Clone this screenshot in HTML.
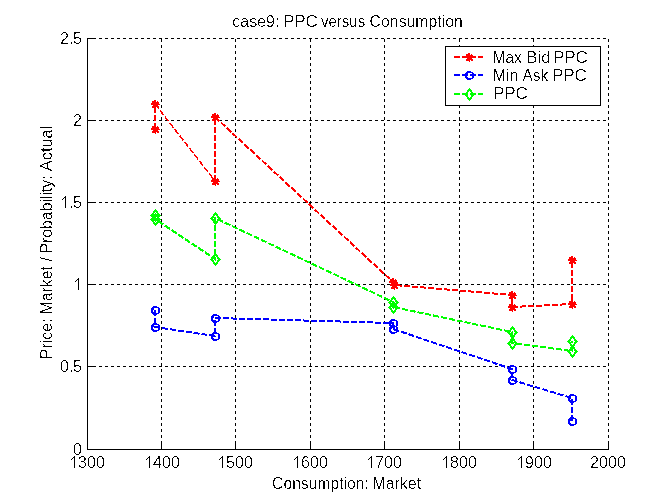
<!DOCTYPE html>
<html><head><meta charset="utf-8"><title>case9: PPC versus Consumption</title>
<style>html,body{margin:0;padding:0;background:#fff;overflow:hidden}svg{display:block}text{font-family:"Liberation Sans",sans-serif;font-size:16px;fill:#000}</style></head><body>
<svg width="672" height="504" viewBox="0 0 672 504" shape-rendering="crispEdges">
<rect x="0" y="0" width="672" height="504" fill="#fff"/>
<g stroke="#000" stroke-width="1" stroke-dasharray="3 3" fill="none">
<line x1="87" y1="366.5" x2="609" y2="366.5"/>
<line x1="87" y1="284.5" x2="609" y2="284.5"/>
<line x1="87" y1="202.5" x2="609" y2="202.5"/>
<line x1="87" y1="120.5" x2="609" y2="120.5"/>
<line x1="87" y1="38.5" x2="609" y2="38.5"/>
<line x1="161.5" y1="450" x2="161.5" y2="38"/>
<line x1="235.5" y1="450" x2="235.5" y2="38"/>
<line x1="310.5" y1="450" x2="310.5" y2="38"/>
<line x1="384.5" y1="450" x2="384.5" y2="38"/>
<line x1="459.5" y1="450" x2="459.5" y2="38"/>
<line x1="533.5" y1="450" x2="533.5" y2="38"/>
<line x1="608.5" y1="450" x2="608.5" y2="38"/>
</g>
<g stroke="#000" stroke-width="1" fill="none">
<line x1="87.5" y1="38" x2="87.5" y2="450"/>
<line x1="87" y1="449.5" x2="609" y2="449.5"/>
<line x1="87" y1="449.5" x2="93" y2="449.5"/>
<line x1="87" y1="366.5" x2="93" y2="366.5"/>
<line x1="87" y1="284.5" x2="93" y2="284.5"/>
<line x1="87" y1="202.5" x2="93" y2="202.5"/>
<line x1="87" y1="120.5" x2="93" y2="120.5"/>
<line x1="87" y1="38.5" x2="93" y2="38.5"/>
<line x1="87.5" y1="450" x2="87.5" y2="444"/>
<line x1="161.5" y1="450" x2="161.5" y2="444"/>
<line x1="235.5" y1="450" x2="235.5" y2="444"/>
<line x1="310.5" y1="450" x2="310.5" y2="444"/>
<line x1="384.5" y1="450" x2="384.5" y2="444"/>
<line x1="459.5" y1="450" x2="459.5" y2="444"/>
<line x1="533.5" y1="450" x2="533.5" y2="444"/>
<line x1="608.5" y1="450" x2="608.5" y2="444"/>
</g>
<g stroke="#f00" fill="none" stroke-width="2" stroke-dasharray="6 2">
<polyline points="155,129 155,104"/>
<line x1="155" y1="104" x2="215" y2="181" stroke-width="1.5"/>
<polyline points="215,181 215,117 393,282 394,285 512,295 512,307 572,304 572,260"/>
</g>
<path fill="#f00" d="M154 125h2v1h-2zM152 126h4v1h-4zM157 126h1v1h-1zM152 127h7v1h-7zM151 128h8v1h-8zM151 129h9v1h-9zM153 130h5v1h-5zM152 131h7v1h-7zM152 132h4v1h-4zM157 132h2v1h-2zM155 133h1v1h-1zM154 100h2v1h-2zM152 101h4v1h-4zM157 101h1v1h-1zM152 102h7v1h-7zM151 103h8v1h-8zM151 104h9v1h-9zM153 105h5v1h-5zM152 106h7v1h-7zM152 107h4v1h-4zM157 107h2v1h-2zM155 108h1v1h-1zM214 177h2v1h-2zM212 178h4v1h-4zM217 178h1v1h-1zM212 179h7v1h-7zM211 180h8v1h-8zM211 181h9v1h-9zM213 182h5v1h-5zM212 183h7v1h-7zM212 184h4v1h-4zM217 184h2v1h-2zM215 185h1v1h-1zM214 113h2v1h-2zM212 114h4v1h-4zM217 114h1v1h-1zM212 115h7v1h-7zM211 116h8v1h-8zM211 117h9v1h-9zM213 118h5v1h-5zM212 119h7v1h-7zM212 120h4v1h-4zM217 120h2v1h-2zM215 121h1v1h-1zM392 278h2v1h-2zM390 279h4v1h-4zM395 279h1v1h-1zM390 280h7v1h-7zM389 281h8v1h-8zM389 282h9v1h-9zM391 283h5v1h-5zM390 284h7v1h-7zM390 285h4v1h-4zM395 285h2v1h-2zM393 286h1v1h-1zM393 281h2v1h-2zM391 282h4v1h-4zM396 282h1v1h-1zM391 283h7v1h-7zM390 284h8v1h-8zM390 285h9v1h-9zM392 286h5v1h-5zM391 287h7v1h-7zM391 288h4v1h-4zM396 288h2v1h-2zM394 289h1v1h-1zM511 291h2v1h-2zM509 292h4v1h-4zM514 292h1v1h-1zM509 293h7v1h-7zM508 294h8v1h-8zM508 295h9v1h-9zM510 296h5v1h-5zM509 297h7v1h-7zM509 298h4v1h-4zM514 298h2v1h-2zM512 299h1v1h-1zM511 303h2v1h-2zM509 304h4v1h-4zM514 304h1v1h-1zM509 305h7v1h-7zM508 306h8v1h-8zM508 307h9v1h-9zM510 308h5v1h-5zM509 309h7v1h-7zM509 310h4v1h-4zM514 310h2v1h-2zM512 311h1v1h-1zM571 300h2v1h-2zM569 301h4v1h-4zM574 301h1v1h-1zM569 302h7v1h-7zM568 303h8v1h-8zM568 304h9v1h-9zM570 305h5v1h-5zM569 306h7v1h-7zM569 307h4v1h-4zM574 307h2v1h-2zM572 308h1v1h-1zM571 256h2v1h-2zM569 257h4v1h-4zM574 257h1v1h-1zM569 258h7v1h-7zM568 259h8v1h-8zM568 260h9v1h-9zM570 261h5v1h-5zM569 262h7v1h-7zM569 263h4v1h-4zM574 263h2v1h-2zM572 264h1v1h-1z"/>
<g stroke="#00f" fill="none" stroke-width="2" stroke-dasharray="6 2">
<polyline points="155,310 155,327 215,336 215,318 393,323 393,329 512,369 512,380 572,398 572,421"/>
</g>
<path fill="#00f" d="M153 306h4v1h-4zM152 307h7v1h-7zM151 308h3v1h-3zM158 308h2v1h-2zM151 309h3v1h-3zM158 309h2v1h-2zM151 310h2v1h-2zM158 310h2v1h-2zM151 311h2v1h-2zM158 311h2v1h-2zM151 312h3v1h-3zM158 312h2v1h-2zM152 313h7v1h-7zM153 314h4v1h-4zM153 323h4v1h-4zM152 324h7v1h-7zM151 325h3v1h-3zM158 325h2v1h-2zM151 326h3v1h-3zM158 326h2v1h-2zM151 327h2v1h-2zM158 327h2v1h-2zM151 328h2v1h-2zM158 328h2v1h-2zM151 329h3v1h-3zM158 329h2v1h-2zM152 330h7v1h-7zM153 331h4v1h-4zM213 332h4v1h-4zM212 333h7v1h-7zM211 334h3v1h-3zM218 334h2v1h-2zM211 335h3v1h-3zM218 335h2v1h-2zM211 336h2v1h-2zM218 336h2v1h-2zM211 337h2v1h-2zM218 337h2v1h-2zM211 338h3v1h-3zM218 338h2v1h-2zM212 339h7v1h-7zM213 340h4v1h-4zM213 314h4v1h-4zM212 315h7v1h-7zM211 316h3v1h-3zM218 316h2v1h-2zM211 317h3v1h-3zM218 317h2v1h-2zM211 318h2v1h-2zM218 318h2v1h-2zM211 319h2v1h-2zM218 319h2v1h-2zM211 320h3v1h-3zM218 320h2v1h-2zM212 321h7v1h-7zM213 322h4v1h-4zM391 319h4v1h-4zM390 320h7v1h-7zM389 321h3v1h-3zM396 321h2v1h-2zM389 322h3v1h-3zM396 322h2v1h-2zM389 323h2v1h-2zM396 323h2v1h-2zM389 324h2v1h-2zM396 324h2v1h-2zM389 325h3v1h-3zM396 325h2v1h-2zM390 326h7v1h-7zM391 327h4v1h-4zM391 325h4v1h-4zM390 326h7v1h-7zM389 327h3v1h-3zM396 327h2v1h-2zM389 328h3v1h-3zM396 328h2v1h-2zM389 329h2v1h-2zM396 329h2v1h-2zM389 330h2v1h-2zM396 330h2v1h-2zM389 331h3v1h-3zM396 331h2v1h-2zM390 332h7v1h-7zM391 333h4v1h-4zM510 365h4v1h-4zM509 366h7v1h-7zM508 367h3v1h-3zM515 367h2v1h-2zM508 368h3v1h-3zM515 368h2v1h-2zM508 369h2v1h-2zM515 369h2v1h-2zM508 370h2v1h-2zM515 370h2v1h-2zM508 371h3v1h-3zM515 371h2v1h-2zM509 372h7v1h-7zM510 373h4v1h-4zM510 376h4v1h-4zM509 377h7v1h-7zM508 378h3v1h-3zM515 378h2v1h-2zM508 379h3v1h-3zM515 379h2v1h-2zM508 380h2v1h-2zM515 380h2v1h-2zM508 381h2v1h-2zM515 381h2v1h-2zM508 382h3v1h-3zM515 382h2v1h-2zM509 383h7v1h-7zM510 384h4v1h-4zM570 394h4v1h-4zM569 395h7v1h-7zM568 396h3v1h-3zM575 396h2v1h-2zM568 397h3v1h-3zM575 397h2v1h-2zM568 398h2v1h-2zM575 398h2v1h-2zM568 399h2v1h-2zM575 399h2v1h-2zM568 400h3v1h-3zM575 400h2v1h-2zM569 401h7v1h-7zM570 402h4v1h-4zM570 417h4v1h-4zM569 418h7v1h-7zM568 419h3v1h-3zM575 419h2v1h-2zM568 420h3v1h-3zM575 420h2v1h-2zM568 421h2v1h-2zM575 421h2v1h-2zM568 422h2v1h-2zM575 422h2v1h-2zM568 423h3v1h-3zM575 423h2v1h-2zM569 424h7v1h-7zM570 425h4v1h-4z"/>
<g stroke="#0f0" fill="none" stroke-width="2" stroke-dasharray="6 2">
<polyline points="155,215 155,219 215,259 215,218 393,302 393,307 512,332 512,343 572,351 572,341"/>
</g>
<path fill="#0f0" d="M155 209h1v1h-1zM154 210h3v1h-3zM153 211h5v1h-5zM153 212h2v1h-2zM156 212h2v1h-2zM152 213h2v1h-2zM157 213h2v1h-2zM151 214h3v1h-3zM157 214h3v1h-3zM150 215h3v1h-3zM158 215h3v1h-3zM151 216h3v1h-3zM157 216h3v1h-3zM152 217h2v1h-2zM157 217h2v1h-2zM153 218h2v1h-2zM156 218h2v1h-2zM153 219h5v1h-5zM154 220h3v1h-3zM155 221h1v1h-1zM155 213h1v1h-1zM154 214h3v1h-3zM153 215h5v1h-5zM153 216h2v1h-2zM156 216h2v1h-2zM152 217h2v1h-2zM157 217h2v1h-2zM151 218h3v1h-3zM157 218h3v1h-3zM150 219h3v1h-3zM158 219h3v1h-3zM151 220h3v1h-3zM157 220h3v1h-3zM152 221h2v1h-2zM157 221h2v1h-2zM153 222h2v1h-2zM156 222h2v1h-2zM153 223h5v1h-5zM154 224h3v1h-3zM155 225h1v1h-1zM215 253h1v1h-1zM214 254h3v1h-3zM213 255h5v1h-5zM213 256h2v1h-2zM216 256h2v1h-2zM212 257h2v1h-2zM217 257h2v1h-2zM211 258h3v1h-3zM217 258h3v1h-3zM210 259h3v1h-3zM218 259h3v1h-3zM211 260h3v1h-3zM217 260h3v1h-3zM212 261h2v1h-2zM217 261h2v1h-2zM213 262h2v1h-2zM216 262h2v1h-2zM213 263h5v1h-5zM214 264h3v1h-3zM215 265h1v1h-1zM215 212h1v1h-1zM214 213h3v1h-3zM213 214h5v1h-5zM213 215h2v1h-2zM216 215h2v1h-2zM212 216h2v1h-2zM217 216h2v1h-2zM211 217h3v1h-3zM217 217h3v1h-3zM210 218h3v1h-3zM218 218h3v1h-3zM211 219h3v1h-3zM217 219h3v1h-3zM212 220h2v1h-2zM217 220h2v1h-2zM213 221h2v1h-2zM216 221h2v1h-2zM213 222h5v1h-5zM214 223h3v1h-3zM215 224h1v1h-1zM393 296h1v1h-1zM392 297h3v1h-3zM391 298h5v1h-5zM391 299h2v1h-2zM394 299h2v1h-2zM390 300h2v1h-2zM395 300h2v1h-2zM389 301h3v1h-3zM395 301h3v1h-3zM388 302h3v1h-3zM396 302h3v1h-3zM389 303h3v1h-3zM395 303h3v1h-3zM390 304h2v1h-2zM395 304h2v1h-2zM391 305h2v1h-2zM394 305h2v1h-2zM391 306h5v1h-5zM392 307h3v1h-3zM393 308h1v1h-1zM393 301h1v1h-1zM392 302h3v1h-3zM391 303h5v1h-5zM391 304h2v1h-2zM394 304h2v1h-2zM390 305h2v1h-2zM395 305h2v1h-2zM389 306h3v1h-3zM395 306h3v1h-3zM388 307h3v1h-3zM396 307h3v1h-3zM389 308h3v1h-3zM395 308h3v1h-3zM390 309h2v1h-2zM395 309h2v1h-2zM391 310h2v1h-2zM394 310h2v1h-2zM391 311h5v1h-5zM392 312h3v1h-3zM393 313h1v1h-1zM512 326h1v1h-1zM511 327h3v1h-3zM510 328h5v1h-5zM510 329h2v1h-2zM513 329h2v1h-2zM509 330h2v1h-2zM514 330h2v1h-2zM508 331h3v1h-3zM514 331h3v1h-3zM507 332h3v1h-3zM515 332h3v1h-3zM508 333h3v1h-3zM514 333h3v1h-3zM509 334h2v1h-2zM514 334h2v1h-2zM510 335h2v1h-2zM513 335h2v1h-2zM510 336h5v1h-5zM511 337h3v1h-3zM512 338h1v1h-1zM512 337h1v1h-1zM511 338h3v1h-3zM510 339h5v1h-5zM510 340h2v1h-2zM513 340h2v1h-2zM509 341h2v1h-2zM514 341h2v1h-2zM508 342h3v1h-3zM514 342h3v1h-3zM507 343h3v1h-3zM515 343h3v1h-3zM508 344h3v1h-3zM514 344h3v1h-3zM509 345h2v1h-2zM514 345h2v1h-2zM510 346h2v1h-2zM513 346h2v1h-2zM510 347h5v1h-5zM511 348h3v1h-3zM512 349h1v1h-1zM572 345h1v1h-1zM571 346h3v1h-3zM570 347h5v1h-5zM570 348h2v1h-2zM573 348h2v1h-2zM569 349h2v1h-2zM574 349h2v1h-2zM568 350h3v1h-3zM574 350h3v1h-3zM567 351h3v1h-3zM575 351h3v1h-3zM568 352h3v1h-3zM574 352h3v1h-3zM569 353h2v1h-2zM574 353h2v1h-2zM570 354h2v1h-2zM573 354h2v1h-2zM570 355h5v1h-5zM571 356h3v1h-3zM572 357h1v1h-1zM572 335h1v1h-1zM571 336h3v1h-3zM570 337h5v1h-5zM570 338h2v1h-2zM573 338h2v1h-2zM569 339h2v1h-2zM574 339h2v1h-2zM568 340h3v1h-3zM574 340h3v1h-3zM567 341h3v1h-3zM575 341h3v1h-3zM568 342h3v1h-3zM574 342h3v1h-3zM569 343h2v1h-2zM574 343h2v1h-2zM570 344h2v1h-2zM573 344h2v1h-2zM570 345h5v1h-5zM571 346h3v1h-3zM572 347h1v1h-1z"/>
<rect x="445.5" y="46.5" width="155" height="59" fill="#fff" stroke="#000" stroke-width="1"/>
<line x1="454" y1="57" x2="483" y2="57" stroke="#f00" stroke-width="2" stroke-dasharray="6 2"/>
<path fill="#f00" d="M468 53h2v1h-2zM466 54h4v1h-4zM471 54h1v1h-1zM466 55h7v1h-7zM465 56h8v1h-8zM465 57h9v1h-9zM467 58h5v1h-5zM466 59h7v1h-7zM466 60h4v1h-4zM471 60h2v1h-2zM469 61h1v1h-1z"/>
<line x1="454" y1="75" x2="483" y2="75" stroke="#00f" stroke-width="2" stroke-dasharray="6 2"/>
<path fill="#00f" d="M467 71h4v1h-4zM466 72h7v1h-7zM465 73h3v1h-3zM472 73h2v1h-2zM465 74h3v1h-3zM472 74h2v1h-2zM465 75h2v1h-2zM472 75h2v1h-2zM465 76h2v1h-2zM472 76h2v1h-2zM465 77h3v1h-3zM472 77h2v1h-2zM466 78h7v1h-7zM467 79h4v1h-4z"/>
<line x1="454" y1="94" x2="483" y2="94" stroke="#0f0" stroke-width="2" stroke-dasharray="6 2"/>
<path fill="#0f0" d="M469 88h1v1h-1zM468 89h3v1h-3zM467 90h5v1h-5zM467 91h2v1h-2zM470 91h2v1h-2zM466 92h2v1h-2zM471 92h2v1h-2zM465 93h3v1h-3zM471 93h3v1h-3zM464 94h3v1h-3zM472 94h3v1h-3zM465 95h3v1h-3zM471 95h3v1h-3zM466 96h2v1h-2zM471 96h2v1h-2zM467 97h2v1h-2zM470 97h2v1h-2zM467 98h5v1h-5zM468 99h3v1h-3zM469 100h1v1h-1z"/>
<defs><filter id="th" x="0" y="0" width="672" height="504" filterUnits="userSpaceOnUse" primitiveUnits="userSpaceOnUse" color-interpolation-filters="sRGB"><feComponentTransfer><feFuncA type="discrete" tableValues="0 0 0 0 0 0 1 1 1 1"/></feComponentTransfer></filter></defs>
<g id="txt" filter="url(#th)">
<text x="492.50" y="63" textLength="29.23" lengthAdjust="spacingAndGlyphs">Max</text>
<text x="526.30" y="63" textLength="24.12" lengthAdjust="spacingAndGlyphs">Bid</text>
<text x="552.90" y="63" textLength="34.91" lengthAdjust="spacingAndGlyphs">PPC</text>
<text x="492.50" y="81" textLength="25.78" lengthAdjust="spacingAndGlyphs">Min</text>
<text x="522.50" y="81" textLength="25.67" lengthAdjust="spacingAndGlyphs">Ask</text>
<text x="551.90" y="81" textLength="34.91" lengthAdjust="spacingAndGlyphs">PPC</text>
<text x="492.90" y="99" textLength="34.91" lengthAdjust="spacingAndGlyphs">PPC</text>
<text x="232.30" y="27" textLength="47.14" lengthAdjust="spacingAndGlyphs">case9:</text>
<text x="282.90" y="27" textLength="34.91" lengthAdjust="spacingAndGlyphs">PPC</text>
<text x="321.00" y="27" textLength="44.12" lengthAdjust="spacingAndGlyphs">versus</text>
<text x="369.60" y="27" textLength="93.28" lengthAdjust="spacingAndGlyphs">Consumption</text>
<text x="272.10" y="489" textLength="96.72" lengthAdjust="spacingAndGlyphs">Consumption:</text>
<text x="372.30" y="489" textLength="48.91" lengthAdjust="spacingAndGlyphs">Market</text>
<text transform="translate(52,359.20) rotate(-90)" textLength="40.91" lengthAdjust="spacingAndGlyphs">Price:</text>
<text transform="translate(52,314.20) rotate(-90)" textLength="47.91" lengthAdjust="spacingAndGlyphs">Market</text>
<text transform="translate(52,261.50) rotate(-90)" textLength="4.45" lengthAdjust="spacingAndGlyphs">/</text>
<text transform="translate(52,253.50) rotate(-90)" textLength="78.16" lengthAdjust="spacingAndGlyphs">Probability:</text>
<text transform="translate(52,171.20) rotate(-90)" textLength="45.47" lengthAdjust="spacingAndGlyphs">Actual</text>
<text x="77.90 86.90 95.90" y="468">300</text>
<text x="152.90 161.90 170.90" y="468">400</text>
<text x="225.90 234.90 243.90" y="468">500</text>
<text x="300.90 309.90 318.90" y="468">600</text>
<text x="374.90 383.90 392.90" y="468">700</text>
<text x="449.90 458.90 467.90" y="468">800</text>
<text x="524.90 533.90 542.90" y="468">900</text>
<text x="589.90 598.90 607.90 616.90" y="468">2000</text>
<text x="72.90" y="455">0</text>
<text x="59.90 68.90 72.90" y="372">0.5</text>
<text x="68.90 72.90" y="208">.5</text>
<text x="72.90" y="126">2</text>
<text x="59.90 68.90 72.90" y="44">2.5</text>
</g>
<path fill="#000" d="M74 456h1v12h-1zM73 457h1v1h-1zM72 458h1v1h-1zM71 459h1v1h-1zM149 456h1v12h-1zM148 457h1v1h-1zM147 458h1v1h-1zM146 459h1v1h-1zM222 456h1v12h-1zM221 457h1v1h-1zM220 458h1v1h-1zM219 459h1v1h-1zM297 456h1v12h-1zM296 457h1v1h-1zM295 458h1v1h-1zM294 459h1v1h-1zM371 456h1v12h-1zM370 457h1v1h-1zM369 458h1v1h-1zM368 459h1v1h-1zM446 456h1v12h-1zM445 457h1v1h-1zM444 458h1v1h-1zM443 459h1v1h-1zM521 456h1v12h-1zM520 457h1v1h-1zM519 458h1v1h-1zM518 459h1v1h-1zM78 278h1v12h-1zM77 279h1v1h-1zM76 280h1v1h-1zM75 281h1v1h-1zM65 196h1v12h-1zM64 197h1v1h-1zM63 198h1v1h-1zM62 199h1v1h-1z"/>
</svg></body></html>
